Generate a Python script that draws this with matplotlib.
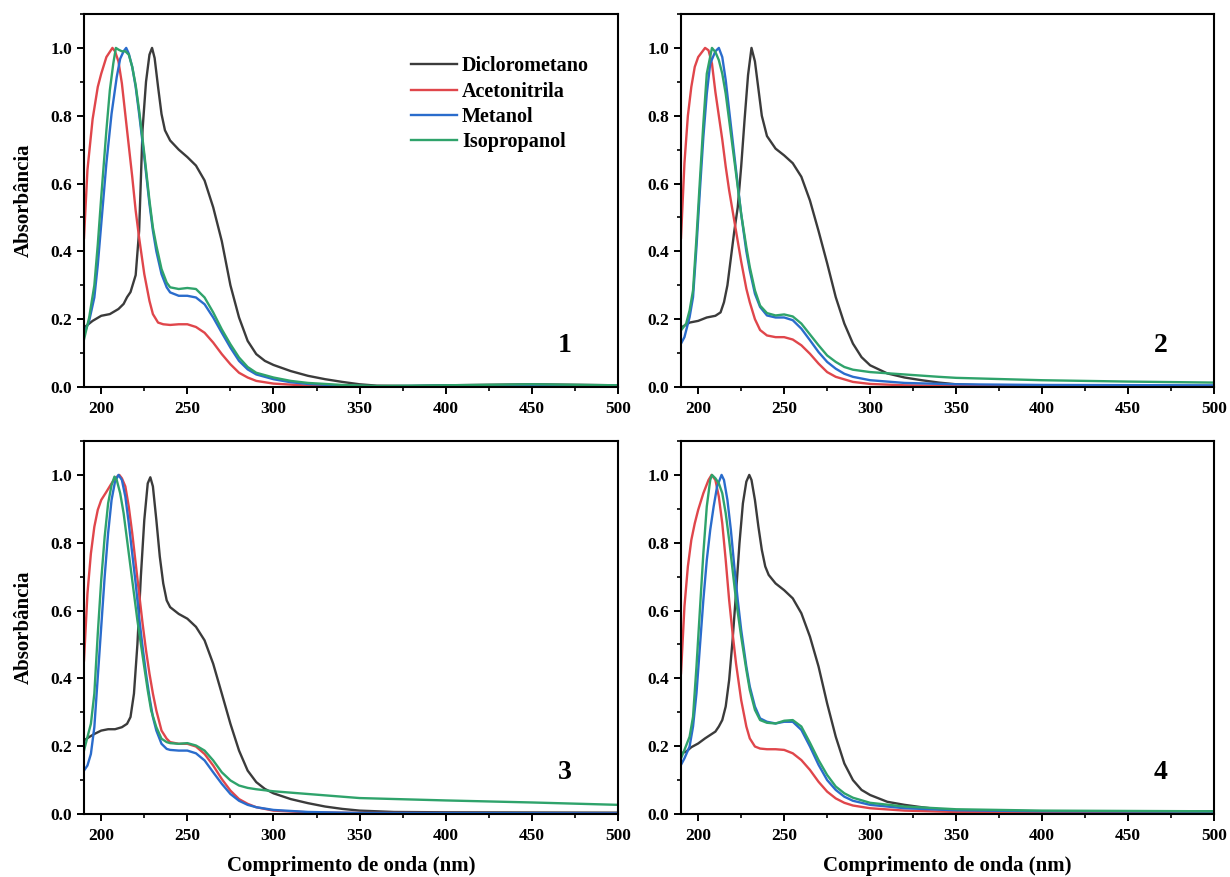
import matplotlib
matplotlib.use("Agg")
import matplotlib.pyplot as plt
from matplotlib.ticker import MultipleLocator

# ---------------- data ----------------
solvents = ["Diclorometano", "Acetonitrila", "Metanol", "Isopropanol"]
colors = ["#3b3b3b", "#e0464b", "#2a6ccc", "#2fa36b"]
panel_labels = ["1", "2", "3", "4"]
x_ticks = [200, 250, 300, 350, 400, 450, 500]
y_ticks = [0.0, 0.2, 0.4, 0.6, 0.8, 1.0]

# Panel 1
p1_dcm_wl = [190,195,200,205,210,213,215,217,220,222,224,226,228,229.5,231,233,235,237,240,245,250,255,260,265,270,275,280,285,290,295,300,310,320,330,340,350,360,380,400,450,500]
p1_dcm = [0.175,0.195,0.21,0.215,0.23,0.245,0.265,0.28,0.33,0.46,0.76,0.90,0.98,1.0,0.97,0.885,0.805,0.757,0.727,0.70,0.678,0.653,0.609,0.53,0.43,0.30,0.205,0.136,0.097,0.077,0.065,0.047,0.033,0.023,0.015,0.008,0.004,0.003,0.005,0.008,0.005]
p1_acn_wl = [190,192,195,198,200,203,206.5,208,210,212,215,218,220,222,225,228,230,233,236,240,245,250,255,260,265,270,275,280,285,290,300,320,350,400,500]
p1_acn = [0.44,0.64,0.79,0.885,0.924,0.973,1.0,0.99,0.96,0.895,0.757,0.62,0.52,0.44,0.333,0.254,0.215,0.19,0.185,0.183,0.185,0.185,0.177,0.16,0.131,0.097,0.067,0.042,0.028,0.018,0.01,0.004,0.001,0.0,0.0]
p1_met_wl = [190,193,196,198,200,203,206,209,211,213,214.5,216,218,220,222,225,228,230,232,235,238,240,245,250,255,260,265,270,275,280,285,290,300,310,320,340,360,400,450,500]
p1_met = [0.156,0.195,0.264,0.36,0.48,0.66,0.806,0.914,0.968,0.99,1.0,0.983,0.944,0.885,0.806,0.678,0.54,0.461,0.40,0.333,0.294,0.279,0.269,0.269,0.264,0.244,0.205,0.16,0.116,0.077,0.052,0.037,0.023,0.014,0.009,0.004,0.002,0.004,0.006,0.004]
p1_iso_wl = [190,193,196,198,200,203,205,207,208.5,210,212,214,216,218,220,222,225,228,230,232,235,238,240,245,250,255,260,265,270,275,280,285,290,300,310,320,340,360,400,450,500]
p1_iso = [0.14,0.205,0.30,0.42,0.56,0.757,0.875,0.954,1.0,0.995,0.99,0.99,0.98,0.944,0.89,0.816,0.688,0.55,0.47,0.417,0.348,0.308,0.294,0.289,0.292,0.289,0.264,0.22,0.17,0.126,0.087,0.059,0.042,0.028,0.018,0.012,0.006,0.003,0.005,0.008,0.005]

# Panel 2
p2_dcm_wl = [190,195,200,205,210,213,215,217,219,221,223,225,227,229,231,233,235,237,240,245,250,255,260,265,270,275,280,285,290,295,300,310,320,330,340,350,370,400,450,500]
p2_dcm = [0.175,0.19,0.195,0.205,0.21,0.22,0.25,0.30,0.38,0.46,0.53,0.65,0.79,0.92,1.0,0.96,0.88,0.80,0.74,0.703,0.683,0.66,0.62,0.55,0.46,0.365,0.265,0.187,0.128,0.088,0.064,0.04,0.028,0.02,0.013,0.008,0.004,0.003,0.002,0.002]
p2_acn_wl = [190,192,194,196,198,200,204,206,208,210,212,214,216,218,220,222,225,228,230,233,236,240,245,250,255,260,265,270,275,280,290,300,320,350,400,500]
p2_acn = [0.44,0.66,0.80,0.885,0.944,0.973,1.0,0.993,0.954,0.87,0.80,0.73,0.65,0.58,0.52,0.46,0.37,0.29,0.25,0.20,0.168,0.152,0.147,0.147,0.14,0.123,0.098,0.069,0.044,0.03,0.015,0.009,0.005,0.003,0.002,0.002]
p2_met_wl = [190,192,195,197,199,201,203,205,207,210,212,214,216,218,220,222,225,228,230,233,236,240,245,250,255,260,265,270,275,280,285,290,300,320,350,400,500]
p2_met = [0.128,0.147,0.206,0.265,0.413,0.58,0.737,0.865,0.954,0.99,1.0,0.973,0.905,0.816,0.728,0.64,0.51,0.40,0.344,0.275,0.236,0.211,0.205,0.205,0.197,0.172,0.138,0.103,0.074,0.054,0.039,0.03,0.02,0.012,0.008,0.006,0.005]
p2_iso_wl = [190,193,195,197,199,201,203,205,208,210,212,214,216,218,220,222,225,228,230,233,236,240,245,250,255,260,265,270,275,280,285,290,300,320,340,350,400,450,500]
p2_iso = [0.167,0.187,0.226,0.285,0.44,0.61,0.777,0.924,1.0,0.988,0.964,0.924,0.865,0.787,0.708,0.63,0.51,0.413,0.354,0.285,0.24,0.218,0.211,0.214,0.208,0.187,0.155,0.123,0.093,0.074,0.059,0.051,0.044,0.037,0.03,0.027,0.02,0.016,0.013]

# Panel 3
p3_dcm_wl = [190,193,196,200,204,208,212,215,217,219,221,223,225,227,228.5,230,232,234,236,238,240,245,250,255,260,265,270,275,280,285,290,295,300,310,320,330,340,350,370,400,500]
p3_dcm = [0.217,0.227,0.236,0.246,0.25,0.25,0.256,0.266,0.286,0.355,0.50,0.70,0.867,0.975,0.993,0.966,0.867,0.759,0.68,0.63,0.61,0.59,0.576,0.552,0.512,0.443,0.355,0.266,0.187,0.128,0.094,0.074,0.061,0.044,0.032,0.022,0.015,0.01,0.006,0.005,0.004]
p3_acn_wl = [190,192,194,196,198,200,203,206,208,210.5,212,214,216,218,220,222,224,226,228,230,232,235,238,240,245,250,255,260,265,270,275,280,285,290,300,320,350,500]
p3_acn = [0.453,0.65,0.768,0.847,0.897,0.926,0.95,0.975,0.99,1.0,0.99,0.966,0.906,0.828,0.739,0.65,0.562,0.483,0.414,0.355,0.305,0.246,0.222,0.212,0.207,0.207,0.199,0.177,0.143,0.103,0.069,0.044,0.03,0.02,0.01,0.005,0.003,0.002]
p3_met_wl = [190,192,194,196,198,200,202,204,206,208,210,212,214,216,218,220,222,224,226,228,230,232,235,238,240,245,250,255,260,265,270,275,280,285,290,300,320,350,500]
p3_met = [0.128,0.143,0.177,0.256,0.404,0.552,0.70,0.828,0.926,0.98,1.0,0.985,0.936,0.857,0.768,0.68,0.58,0.493,0.414,0.345,0.286,0.246,0.207,0.192,0.189,0.187,0.187,0.179,0.158,0.123,0.089,0.059,0.039,0.027,0.02,0.012,0.006,0.003,0.002]
p3_iso_wl = [190,192,194,196,198,200,202,204,206,207.7,209,211,213,215,217,219,221,223,225,227,229,232,235,238,240,245,250,255,260,265,270,275,280,285,290,300,320,340,350,400,450,500]
p3_iso = [0.187,0.227,0.266,0.355,0.532,0.69,0.818,0.916,0.97,0.995,0.985,0.946,0.887,0.808,0.729,0.65,0.571,0.502,0.433,0.365,0.305,0.256,0.222,0.212,0.209,0.207,0.209,0.202,0.187,0.158,0.123,0.099,0.084,0.077,0.073,0.067,0.059,0.051,0.047,0.04,0.034,0.027]

# Panel 4
p4_dcm_wl = [190,193,196,200,204,207,210,212,214,216,218,220,222,224,226,228,229.7,231,233,235,237,239,241,245,250,255,260,265,270,275,280,285,290,295,300,310,320,330,340,350,400,500]
p4_dcm = [0.179,0.184,0.197,0.208,0.223,0.233,0.243,0.258,0.277,0.317,0.395,0.513,0.651,0.798,0.916,0.98,1.0,0.985,0.926,0.848,0.779,0.73,0.705,0.68,0.66,0.636,0.592,0.523,0.435,0.326,0.228,0.149,0.10,0.071,0.056,0.036,0.027,0.02,0.014,0.009,0.008,0.008]
p4_acn_wl = [190,192,194,196,198,200,203,206,207.8,210,212,214,216,218,220,222,225,228,230,233,236,240,245,250,255,260,265,270,275,280,285,290,300,320,350,500]
p4_acn = [0.415,0.612,0.73,0.808,0.857,0.897,0.946,0.985,1.0,0.985,0.936,0.857,0.749,0.631,0.533,0.444,0.336,0.258,0.223,0.199,0.193,0.191,0.191,0.189,0.179,0.159,0.13,0.095,0.066,0.046,0.033,0.025,0.017,0.01,0.006,0.005]
p4_met_wl = [190,192,195,197,199,201,203,205,207,209,211,213.6,215,217,219,221,223,225,228,230,233,236,240,245,250,255,260,265,270,275,280,285,290,300,320,350,400,500]
p4_met = [0.145,0.164,0.199,0.258,0.356,0.494,0.631,0.749,0.838,0.907,0.966,1.0,0.985,0.926,0.838,0.73,0.631,0.543,0.435,0.376,0.317,0.282,0.272,0.267,0.272,0.272,0.248,0.199,0.145,0.10,0.071,0.051,0.039,0.027,0.017,0.011,0.008,0.007]
p4_iso_wl = [190,192,195,197,199,201,203,205,207,208,210,212,214,216,218,220,222,225,228,230,233,236,240,245,250,255,260,265,270,275,280,285,290,300,320,350,400,500]
p4_iso = [0.164,0.189,0.228,0.287,0.435,0.602,0.769,0.907,0.985,1.0,0.99,0.975,0.946,0.887,0.808,0.72,0.631,0.523,0.425,0.366,0.307,0.277,0.269,0.267,0.275,0.277,0.258,0.21,0.159,0.115,0.081,0.061,0.048,0.033,0.022,0.014,0.01,0.008]

panels = [
    [(p1_dcm_wl, p1_dcm), (p1_acn_wl, p1_acn), (p1_met_wl, p1_met), (p1_iso_wl, p1_iso)],
    [(p2_dcm_wl, p2_dcm), (p2_acn_wl, p2_acn), (p2_met_wl, p2_met), (p2_iso_wl, p2_iso)],
    [(p3_dcm_wl, p3_dcm), (p3_acn_wl, p3_acn), (p3_met_wl, p3_met), (p3_iso_wl, p3_iso)],
    [(p4_dcm_wl, p4_dcm), (p4_acn_wl, p4_acn), (p4_met_wl, p4_met), (p4_iso_wl, p4_iso)],
]

# ---------------- figure ----------------
plt.rcParams['font.family'] = ['Liberation Serif', 'DejaVu Serif']
plt.rcParams['font.weight'] = 'bold'

W, H = 1230, 877
fig = plt.figure(figsize=(W / 100, H / 100), dpi=100)

# axes boxes in pixels: (left, top, right, bottom)
boxes = [(84, 14, 618, 387), (681, 14, 1214, 387),
         (84, 441, 618, 814), (681, 441, 1214, 814)]

for i, (l, t, r, b) in enumerate(boxes):
    ax = fig.add_axes([l / W, (H - b) / H, (r - l) / W, (b - t) / H])
    for (wl, ab), c, name in zip(panels[i], colors, solvents):
        ax.plot(wl, ab, color=c, lw=1.7, label=name)
    ax.set_xlim(190, 500)
    ax.set_ylim(0, 1.1)
    ax.set_xticks(x_ticks)
    ax.set_yticks(y_ticks)
    ax.set_xticklabels([str(v) for v in x_ticks])
    ax.set_yticklabels([f"{v:.1f}" for v in y_ticks])
    ax.xaxis.set_minor_locator(MultipleLocator(25))
    ax.yaxis.set_minor_locator(MultipleLocator(0.1))
    ax.tick_params(axis='x', which='major', pad=5)
    ax.tick_params(which='major', direction='out', length=5, width=1.4,
                   labelsize=12.5)
    ax.tick_params(which='minor', direction='out', length=3, width=1.2)
    for sp in ax.spines.values():
        sp.set_linewidth(1.5)
    for lab in ax.get_xticklabels() + ax.get_yticklabels():
        lab.set_fontweight('bold')
    ax.text(0.9, 0.112, panel_labels[i], transform=ax.transAxes,
            fontsize=20, fontweight='bold', ha='center', va='center')
    if i in (0, 2):
        ax.set_ylabel("Absorbância", fontsize=15, fontweight='bold', labelpad=12)
    if i in (2, 3):
        ax.set_xlabel("Comprimento de onda (nm)", fontsize=15, fontweight='bold', labelpad=8.5)
    if i == 0:
        ax.legend(loc='upper left', bbox_to_anchor=(0.612, 0.887), frameon=False,
                  handlelength=2.3, handletextpad=0.25,
                  labelspacing=0.27, borderpad=0, borderaxespad=0,
                  prop={'weight': 'bold', 'size': 14.5})

fig.savefig("out.png", dpi=100)
